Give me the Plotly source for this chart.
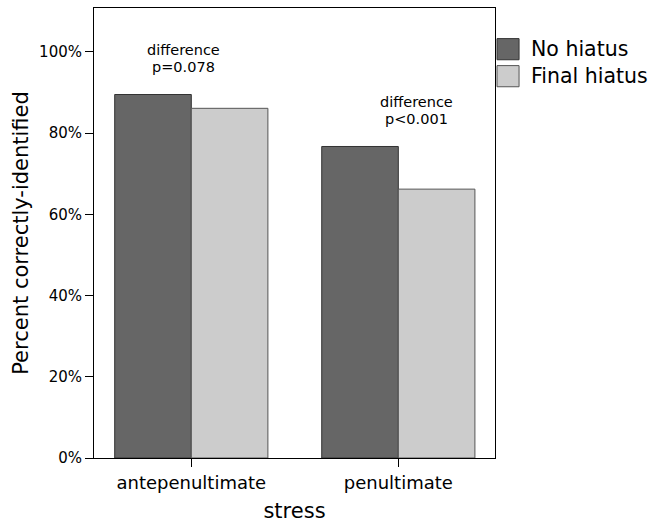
import plotly.graph_objects as go

categories = ["antepenultimate", "penultimate"]
series_names = ["No hiatus", "Final hiatus"]
no_hiatus = [89.5, 76.7]
final_hiatus = [86.1, 66.2]
y_ticks = [0, 20, 40, 60, 80, 100]
y_tick_labels = ["0%", "20%", "40%", "60%", "80%", "100%"]
note_lines = [["difference", "p=0.078"], ["difference", "p<0.001"]]

DARK = "#666666"
LIGHT = "#cccccc"
FONT = "DejaVu Sans"

fig = go.Figure()
fig.add_trace(go.Bar(x=categories, y=no_hiatus, name=series_names[0],
                     marker=dict(color=DARK, line=dict(color="#333333", width=1)),
                     showlegend=False))
fig.add_trace(go.Bar(x=categories, y=final_hiatus, name=series_names[1],
                     marker=dict(color=LIGHT, line=dict(color="#555555", width=1)),
                     showlegend=False))

# significance notes
note_x = [-0.037, 1.087]
note_y = [[100.4, 96.2], [87.6, 83.4]]
for i, lines in enumerate(note_lines):
    for j, t in enumerate(lines):
        fig.add_annotation(x=note_x[i], y=note_y[i][j], xref="x", yref="y", text=t,
                           showarrow=False, font=dict(size=14.5, color="black", family=FONT),
                           xanchor="center", yanchor="middle", borderpad=0)

# manual legend
sw = [(0.932, 0.885, DARK, "#333333"), (0.872, 0.825, LIGHT, "#555555")]
for (y1, y0, fc, lc), name in zip(sw, series_names):
    fig.add_shape(type="rect", xref="paper", yref="paper", x0=1.005, x1=1.060,
                  y0=y0, y1=y1, fillcolor=fc, line=dict(color=lc, width=1))
    fig.add_annotation(x=1.085, y=(y0 + y1) / 2, xref="paper", yref="paper", text=name,
                       showarrow=False, xanchor="left", yanchor="middle",
                       font=dict(size=20.5, color="black", family=FONT))

fig.update_layout(
    width=653, height=523,
    margin=dict(l=94, r=158, t=8, b=65),
    paper_bgcolor="white", plot_bgcolor="white",
    font=dict(family=FONT, color="black"),
    barmode="group", bargap=0.26, bargroupgap=0,
    xaxis=dict(range=[-0.47, 1.467], showline=True, linecolor="black", linewidth=1,
               mirror=True, ticks="outside", ticklen=8, tickcolor="black",
               tickfont=dict(size=18, family=FONT), showgrid=False, automargin=False,
               title=dict(text="stress", font=dict(size=21, family=FONT), standoff=14)),
    yaxis=dict(range=[0, 110.8], tickmode="array", tickvals=y_ticks, ticktext=y_tick_labels,
               showline=True, automargin=False,
               linecolor="black", linewidth=1, mirror=True, ticks="outside", ticklen=8,
               tickcolor="black", tickfont=dict(size=15, family=FONT), showgrid=False,
               zeroline=False,
               title=dict(text="Percent correctly-identified", font=dict(size=21, family=FONT),
                          standoff=4)),
)

fig.write_html("out.html", config={"displayModeBar": False},
               post_script="document.body.style.margin='0';document.body.style.padding='0';")
